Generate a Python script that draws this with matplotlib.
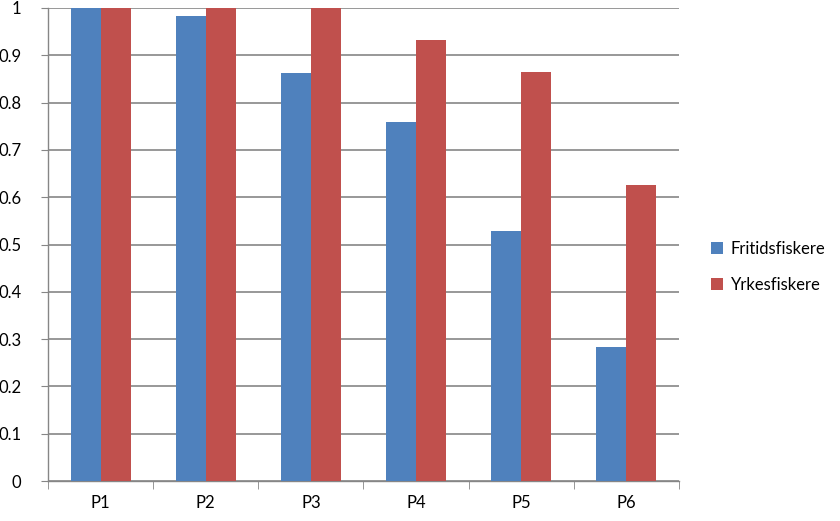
import matplotlib.pyplot as plt
import numpy as np

plt.rcParams['font.family'] = ['Lato', 'DejaVu Sans']

categories = ["P1", "P2", "P3", "P4", "P5", "P6"]
fritid = [1.0, 0.983, 0.862, 0.759, 0.528, 0.283]
yrke = [1.0, 1.0, 1.0, 0.932, 0.865, 0.626]
series_names = ["Fritidsfiskere", "Yrkesfiskere"]
yticks = [0, 0.1, 0.2, 0.3, 0.4, 0.5, 0.6, 0.7, 0.8, 0.9, 1]

fig = plt.figure(figsize=(8.4, 5.21), dpi=100)
ax = fig.add_axes([48 / 840, 1 - 481 / 521, 631 / 840, 473 / 521])

x = np.arange(len(categories))
w = 1 / 3.5
b1 = ax.bar(x - w / 2, fritid, w, color="#4f81bd", label=series_names[0], zorder=3)
b2 = ax.bar(x + w / 2, yrke, w, color="#c0504d", label=series_names[1], zorder=3)

ax.set_xlim(-0.5, len(categories) - 0.5)
ax.set_ylim(0, 1)
ax.set_yticks(yticks)
ax.set_yticklabels([f"{v:g}" for v in yticks])
ax.yaxis.grid(True, color="#868686", linewidth=1.2, zorder=0)

ax.set_xticks(x)
ax.set_xticklabels(categories)
ax.set_xticks(np.arange(len(categories) + 1) - 0.5, minor=True)
ax.tick_params(axis="x", which="major", length=0, pad=10, labelsize=12)
ax.tick_params(axis="x", which="minor", length=6, color="#868686", direction="out")
ax.tick_params(axis="y", length=5, color="#868686", pad=14, labelsize=12)

for side in ["top", "right"]:
    ax.spines[side].set_visible(False)
for side in ["left", "bottom"]:
    ax.spines[side].set_color("#868686")
    ax.spines[side].set_linewidth(1.0)

fig.legend(handles=[b1, b2], loc="center left", bbox_to_anchor=(696 / 840, 1 - 267 / 521),
           frameon=False, fontsize=12, handlelength=0.7, handleheight=0.7,
           handletextpad=0.5, labelspacing=1.2)

fig.savefig("out.png", dpi=100)
